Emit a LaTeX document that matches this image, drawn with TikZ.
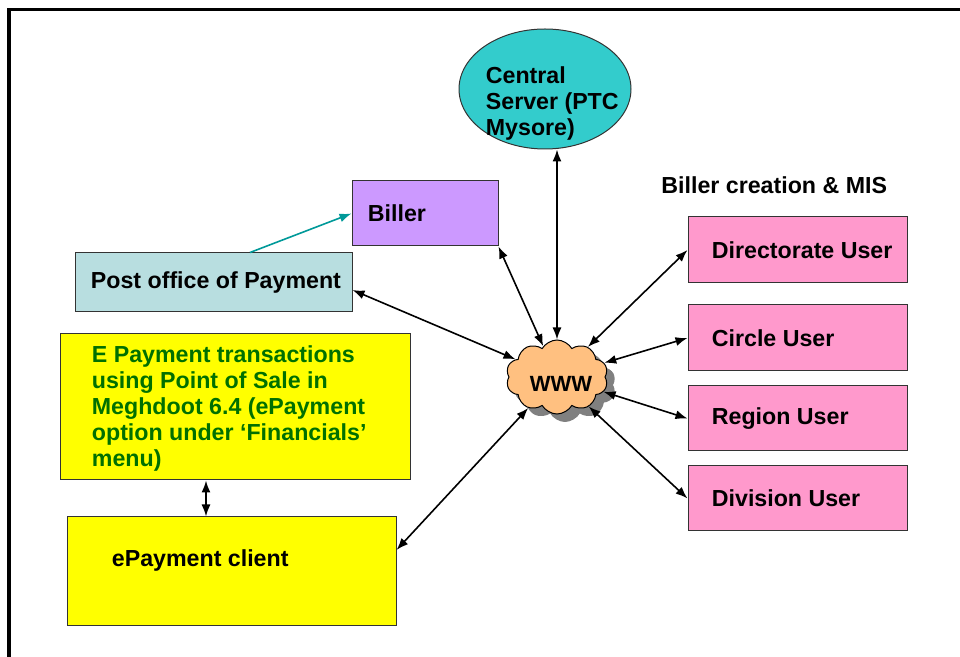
\documentclass[tikz,border=0pt]{standalone}
\usepackage{fontspec}
\setmainfont{Liberation Sans}
\usetikzlibrary{shapes.geometric,shapes.symbols,shadows,arrows.meta}
\definecolor{tealfill}{HTML}{33CCCC}
\definecolor{billerfill}{HTML}{CC99FF}
\definecolor{postfill}{HTML}{B8DEE0}
\definecolor{yellowfill}{HTML}{FFFF00}
\definecolor{pinkfill}{HTML}{FF99CC}
\definecolor{greentext}{HTML}{007000}
\definecolor{tealarrow}{HTML}{009999}
\definecolor{cloudfill}{HTML}{FFC080}
\definecolor{shadowgray}{HTML}{808080}
\begin{document}
\begin{tikzpicture}[x=0.5pt,y=-0.5pt,
  box/.style={draw=black!80,line width=0.5pt,rectangle,inner sep=0pt},
  lbl/.style={anchor=west,inner sep=0pt,align=left,font=\bfseries\fontsize{11.6}{13}\selectfont},
  arr/.style={{Latex[length=6pt,width=4.5pt]}-{Latex[length=6pt,width=4.5pt]},line width=0.8pt},
  onearr/.style={-{Latex[length=6pt,width=4.5pt]},line width=0.8pt},
  pinkbox/.style={box,fill=pinkfill,minimum width=109.5pt,minimum height=33pt}
]
\clip (0,0) rectangle (960,657);
\draw[line width=1.75pt] (9,9.5) rectangle (1000,700);

\node[draw=black!80, line width=0.5pt, fill=tealfill, ellipse, minimum width=86pt, minimum height=60pt, inner sep=0pt,
  label={[lbl,xshift=13.5pt,yshift=-7.5pt]west:Central\\Server (PTC\\Mysore)}] (central) at (545,89) {};

\node[box, fill=billerfill, minimum width=73pt, minimum height=32.5pt,
  label={[lbl,xshift=8pt]west:Biller}] (biller) at (425,213.5) {};

\node[box, fill=postfill, minimum width=138.5pt, minimum height=29.5pt,
  label={[lbl,xshift=8pt]west:Post office of Payment}] (post) at (213.5,282.5) {};

\node[box, fill=yellowfill, minimum width=175pt, minimum height=73pt,
  label={[lbl,text=greentext,xshift=16pt,yshift=-0.75pt]west:E Payment transactions\\using Point of Sale in\\Meghdoot 6.4 (ePayment\\option under ‘Financials’\\menu)}] (epay) at (235,407) {};

\node[box, fill=yellowfill, minimum width=164.5pt, minimum height=54.5pt,
  label={[lbl,xshift=22.5pt,yshift=5.25pt]west:ePayment client}] (client) at (231.5,571.5) {};

\node[lbl] (mis) at (661,185) {Biller creation \& MIS};

\node[pinkbox, label={[lbl,xshift=12pt]west:Directorate User}] (dir) at (797.5,250) {};
\node[pinkbox, label={[lbl,xshift=12pt]west:Circle User}] (circ) at (797.5,338) {};
\node[pinkbox, minimum height=32.5pt, label={[lbl,xshift=12pt]west:Region User}] (reg) at (797.5,418.5) {};
\node[pinkbox, minimum height=32.5pt, label={[lbl,xshift=12pt]west:Division User}] (div) at (797.5,498.5) {};

\node[cloud, draw=black, line width=0.5pt, fill=cloudfill, cloud puffs=10, cloud puff arc=120, aspect=1.4,
  minimum width=51pt, minimum height=37pt, inner sep=0pt,
  drop shadow={fill=shadowgray, opacity=1, shadow xshift=4pt, shadow yshift=-4pt},
  label={[font=\bfseries\fontsize{11}{12}\selectfont, xshift=2pt, yshift=-3.5pt]center:WWW}] (www) at (557,377) {};

\draw[arr] (www.north |- central.south) -- (www.north);
\draw[arr] (biller.south east) -- (www);
\draw[arr] ([yshift=-3.75pt]post.east) -- (www);
\draw[arr] (dir.west) -- (www);
\draw[arr] (circ.west) -- (www);
\draw[arr] (reg.west) -- (www);
\draw[arr] (div.west) -- (www);
\draw[arr] ([yshift=10.75pt]client.east) -- (www);
\draw[arr] ([xshift=-14.5pt]epay.south) -- ([xshift=-12.75pt]client.north);
\draw[onearr, draw=tealarrow, fill=tealarrow] ([xshift=18.25pt]post.north) -- (biller.west);
\end{tikzpicture}
\end{document}
